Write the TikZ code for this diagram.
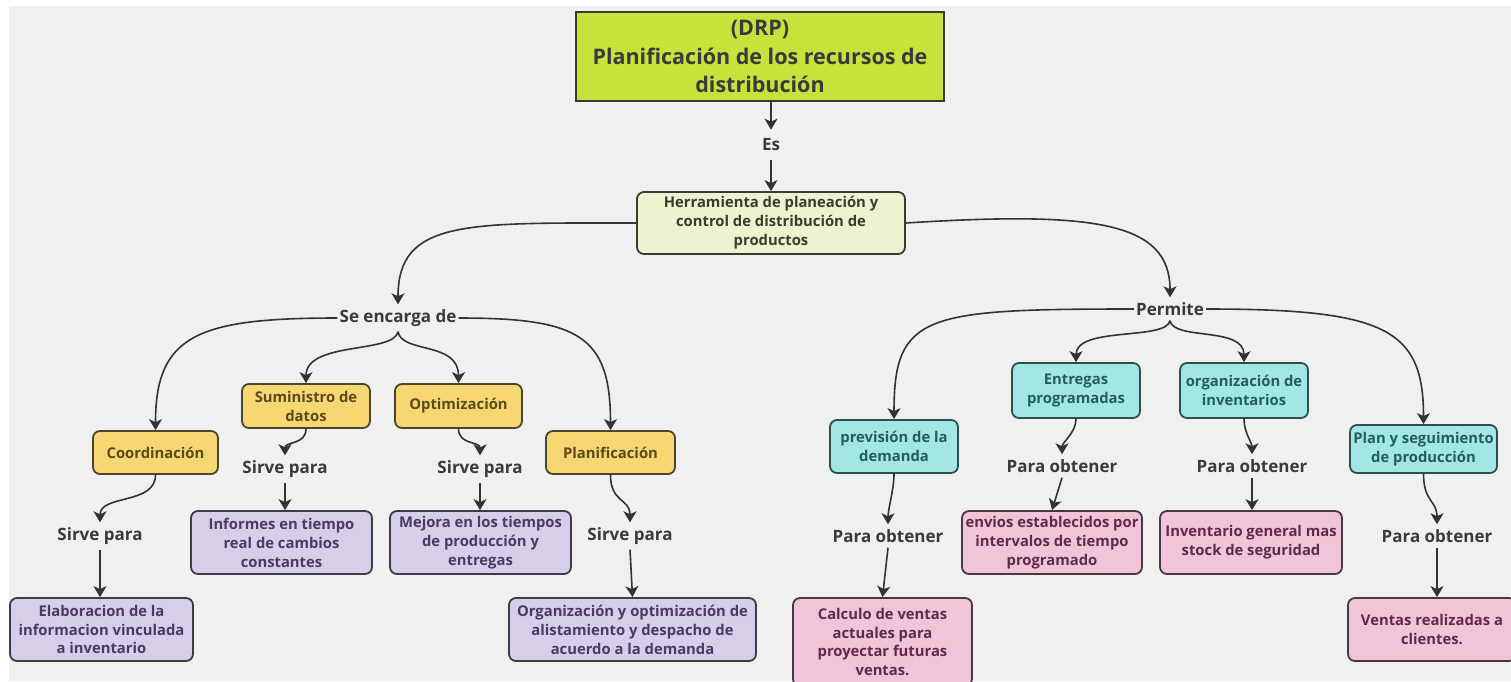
\documentclass[tikz,border=0pt]{standalone}
\usepackage{fontspec}
\setmainfont{Open Sans}
\usetikzlibrary{arrows.meta}

\definecolor{bgc}{HTML}{F0F0F0}
\definecolor{titlefill}{HTML}{C8E23C}
\definecolor{herrfill}{HTML}{EDF2D0}
\definecolor{yelfill}{HTML}{F6D771}
\definecolor{lavfill}{HTML}{D7CEE9}
\definecolor{cyanfill}{HTML}{A3E7E5}
\definecolor{pinkfill}{HTML}{F1C5D9}
\definecolor{linec}{HTML}{333333}
\definecolor{labtext}{HTML}{3A3A3A}
\definecolor{yeltext}{HTML}{5C4A1C}
\definecolor{lavtext}{HTML}{4B3B5E}
\definecolor{cyantext}{HTML}{235E5C}
\definecolor{pinktext}{HTML}{5E2B4A}
\definecolor{herrtext}{HTML}{3C3C2C}
\definecolor{yelborder}{HTML}{4B4530}
\definecolor{lavborder}{HTML}{3F3A48}
\definecolor{cyanborder}{HTML}{2C4E4E}
\definecolor{pinkborder}{HTML}{4A3540}
\definecolor{herrborder}{HTML}{3A3A2E}

\newcommand{\titlefont}{\fontsize{21.5}{28.5}\selectfont\bfseries}
\newcommand{\boxfont}{\fontsize{14.8}{18.9}\selectfont\bfseries}
\newcommand{\labfont}{\fontsize{17}{19}\selectfont\bfseries}

\tikzset{
  box/.style={draw, line width=1.8pt, rounded corners=7pt, align=center, inner sep=0pt, font=\boxfont},
  titlebox/.style={draw=herrborder, fill=titlefill, line width=2pt, align=center, inner sep=0pt, font=\titlefont, text=labtext},
  herrbox/.style={box, fill=herrfill, draw=herrborder, text=herrtext},
  yelbox/.style={box, fill=yelfill, draw=yelborder, text=yeltext},
  lavbox/.style={box, fill=lavfill, draw=lavborder, text=lavtext},
  cyanbox/.style={box, fill=cyanfill, draw=cyanborder, text=cyantext},
  pinkbox/.style={box, fill=pinkfill, draw=pinkborder, text=pinktext},
  lbl/.style={font=\labfont, text=labtext, inner xsep=2pt, inner ysep=5pt},
  arr/.style={draw=linec, line width=1.6pt, -{Stealth[length=11pt,width=13pt,inset=3pt]}},
  link/.style={draw=linec, line width=1.6pt}
}

\begin{document}
\begin{tikzpicture}[x=1pt,y=-1pt]
\useasboundingbox (0,0) rectangle (1511,681);
\fill[white] (0,0) rectangle (1511,681);
\fill[bgc] (9,6) rectangle (1511,681);

% top of the map
\node[titlebox, minimum width=368pt, minimum height=89pt] (title) at (760,56.5)
  {(DRP)\\Planificación de los recursos de\\distribución};
\node[lbl, inner ysep=9pt] (es) at (771,145) {Es};
\node[herrbox, minimum width=268pt, minimum height=62pt] (herr) at (771,223)
  {Herramienta de planeación y\\control de distribución de\\productos};

\draw[arr] (title.south -| es) -- (es.north);
\draw[arr] (es.south) -- (herr.north);

% the two branches
\node[lbl] (seenc) at (398,318) {Se encarga de};
\node[lbl] (perm) at (1170,309) {Permite};

\draw[arr] (herr.west) .. controls +(-170,0) and +(0,-85) .. (seenc.north);
\draw[arr] (herr.east) .. controls +(190,-12) and +(0,-75) .. (perm.north);

% "Se encarga de" branch
\node[yelbox, minimum width=125pt, minimum height=43pt] (coord) at (155.5,452.5) {Coordinación};
\node[yelbox, minimum width=128pt, minimum height=44pt] (sumi) at (306,406) {Suministro de\\datos};
\node[yelbox, minimum width=127pt, minimum height=44pt] (opti) at (458.5,406) {Optimización};
\node[yelbox, minimum width=129pt, minimum height=43pt] (plani) at (610.5,452.5) {Planificación};

\draw[arr] (seenc.west) .. controls +(-140,0) and +(0,-95) .. (coord.north);
\draw[arr] (seenc.east) .. controls +(120,0) and +(0,-95) .. (plani.north);
\draw[arr] (seenc.south) .. controls +(-4,22) and +(0,-42) .. (sumi.north);
\draw[arr] (seenc.south) .. controls +(4,22) and +(0,-42) .. (opti.north);

\node[lbl] (sp1) at (100,536) {Sirve para};
\node[lbl] (sp2) at (285,469) {Sirve para};
\node[lbl] (sp3) at (480,469) {Sirve para};
\node[lbl] (sp4) at (630,536) {Sirve para};

\node[lavbox, minimum width=183pt, minimum height=63pt] (elab) at (101.5,629.5)
  {Elaboracion de la\\informacion vinculada\\a inventario};
\node[lavbox, minimum width=181pt, minimum height=63pt] (info) at (281.5,542.5)
  {Informes en tiempo\\real de cambios\\constantes};
\node[lavbox, minimum width=181pt, minimum height=63pt] (mejo) at (480.5,542.5)
  {Mejora en los tiempos\\de producción y\\entregas};
\node[lavbox, minimum width=247pt, minimum height=63pt] (orga) at (632.5,629.5)
  {Organización y optimización de\\alistamiento y despacho de\\acuerdo a la demanda};

\draw[arr] (coord.south) .. controls +(0,30) and +(0,-28) .. (sp1.north);
\draw[arr] (sp1.south) -- (sp1.south |- elab.north);
\draw[arr] (sumi.south) .. controls +(0,16) and +(0,-14) .. (sp2.north);
\draw[arr] (sp2.south) -- (sp2.south |- info.north);
\draw[arr] (opti.south) .. controls +(0,16) and +(0,-14) .. (sp3.north);
\draw[arr] (sp3.south) -- (sp3.south |- mejo.north);
\draw[arr] (plani.south) .. controls +(0,28) and +(0,-24) .. (sp4.north);
\draw[arr] (sp4.south) -- (orga.north);

% "Permite" branch
\node[cyanbox, minimum width=128pt, minimum height=53pt] (prev) at (894,446.5) {previsión de la\\demanda};
\node[cyanbox, minimum width=128pt, minimum height=55pt] (entr) at (1076,390.5) {Entregas\\programadas};
\node[cyanbox, minimum width=128pt, minimum height=55pt] (orgi) at (1244,390.5) {organización de\\inventarios};
\node[cyanbox, minimum width=147pt, minimum height=48pt] (plan) at (1423.5,449) {Plan y seguimiento\\de producción};

\draw[arr] (perm.west) .. controls +(-210,0) and +(0,-105) .. (prev.north);
\draw[arr] (perm.east) .. controls +(180,0) and +(0,-95) .. (plan.north);
\draw[arr] (perm.south) .. controls +(-4,20) and +(0,-36) .. (entr.north);
\draw[arr] (perm.south) .. controls +(4,20) and +(0,-36) .. (orgi.north);

\node[lbl] (po1) at (888,536) {Para obtener};
\node[lbl] (po2) at (1062,466) {Para obtener};
\node[lbl] (po3) at (1252,466) {Para obtener};
\node[lbl] (po4) at (1437,536) {Para obtener};

\node[pinkbox, minimum width=179pt, minimum height=88pt] (calc) at (882.5,642)
  {Calculo de ventas\\actuales para\\proyectar futuras\\ventas.};
\node[pinkbox, minimum width=180pt, minimum height=63pt] (envi) at (1052,542.5)
  {envios establecidos por\\intervalos de tiempo\\programado};
\node[pinkbox, minimum width=182pt, minimum height=63pt] (inve) at (1251,542.5)
  {Inventario general mas\\stock de seguridad};
\node[pinkbox, minimum width=168pt, minimum height=63pt] (vent) at (1432,629.5)
  {Ventas realizadas a\\clientes.};

\draw[arr] (prev.south) .. controls +(0,15) and +(0,-15) .. (po1.north);
\draw[arr] (po1.south) -- (calc.north);
\draw[arr] (entr.south) .. controls +(0,14) and +(0,-12) .. (po2.north);
\draw[arr] (po2.south) -- (envi.north);
\draw[arr] (orgi.south) .. controls +(0,14) and +(0,-12) .. (po3.north);
\draw[arr] (po3.south) -- (po3.south |- inve.north);
\draw[arr] (plan.south) .. controls +(0,28) and +(0,-24) .. (po4.north);
\draw[arr] (po4.south) -- (po4.south |- vent.north);
\end{tikzpicture}
\end{document}
